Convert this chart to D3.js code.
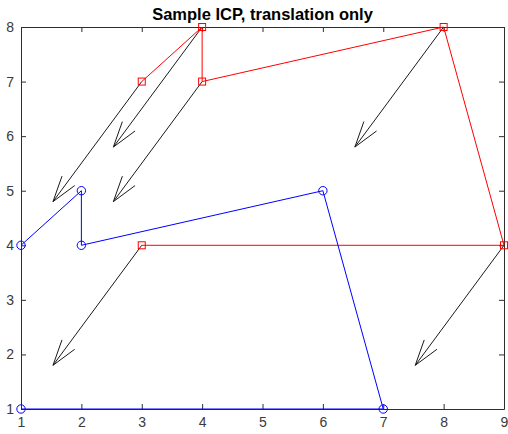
<!DOCTYPE html>
<html>
<head>
<meta charset="utf-8">
<script src="https://cdn.jsdelivr.net/npm/d3@7"></script>
<style>
  html, body { margin: 0; padding: 0; background: #fff; }
  svg { display: block; }
</style>
</head>
<body>
<svg id="chart" width="508" height="434"></svg>
<script>
// Model point set (red, squares)
const modelX = [3, 4, 4, 8, 9, 3];
const modelY = [7, 8, 7, 8, 4, 4];
// Data point set (blue, circles)
const dataX = [1, 2, 2, 6, 7, 1];
const dataY = [4, 5, 4, 5, 1, 1];
// Quiver arrows drawn from each model point (translation estimate)
const arrowU = [-1.47, -1.47, -1.47, -1.47, -1.47, -1.47];
const arrowV = [-2.2, -2.2, -2.2, -2.2, -2.2, -2.2];
// Axis ticks
const xTicks = [1, 2, 3, 4, 5, 6, 7, 8, 9];
const yTicks = [1, 2, 3, 4, 5, 6, 7, 8];
const titleText = "Sample ICP, translation only";

(function () {
const svg = d3.select("#chart");
const plotLeft = 21, plotRight = 504, plotTop = 27, plotBottom = 409;

const x = d3.scaleLinear().domain([1, 9]).range([plotLeft, plotRight]);
const y = d3.scaleLinear().domain([1, 8]).range([plotBottom, plotTop]);

const axisColor = "#2e2e2e";
const font = "'Liberation Sans', Arial, Helvetica, sans-serif";

// Axes (ticks pointing inward, box on)
const tickLen = 5;
const gx = svg.append("g").attr("transform", `translate(0,${plotBottom})`)
  .call(d3.axisBottom(x).tickValues(xTicks).tickSizeInner(-tickLen).tickSizeOuter(0).tickPadding(8).tickFormat(d3.format("d")));
const gxTop = svg.append("g").attr("transform", `translate(0,${plotTop})`)
  .call(d3.axisTop(x).tickValues(xTicks).tickSizeInner(-tickLen).tickSizeOuter(0).tickFormat(""));
const gy = svg.append("g").attr("transform", `translate(${plotLeft},0)`)
  .call(d3.axisLeft(y).tickValues(yTicks).tickSizeInner(-tickLen).tickSizeOuter(0).tickPadding(7).tickFormat(d3.format("d")));
const gyRight = svg.append("g").attr("transform", `translate(${plotRight},0)`)
  .call(d3.axisRight(y).tickValues(yTicks).tickSizeInner(-tickLen).tickSizeOuter(0).tickFormat(""));

[gx, gxTop, gy, gyRight].forEach(g => {
  g.select(".domain").attr("stroke", axisColor).attr("stroke-width", 1);
  g.selectAll(".tick line").attr("stroke", axisColor).attr("stroke-width", 1);
  g.selectAll(".tick text").attr("fill", "#3a3a3a").style("font-family", font).style("font-size", "14px");
});

// Title
svg.append("text")
  .attr("x", (plotLeft + plotRight) / 2)
  .attr("y", 19.5)
  .attr("text-anchor", "middle")
  .style("font-family", font)
  .style("font-size", "16.5px")
  .style("font-weight", "bold")
  .attr("fill", "#000")
  .text(titleText);

const line = d3.line().x(d => x(d[0])).y(d => y(d[1]));

// Quiver arrows (black)
const arrows = modelX.map((mx, i) => ({ x0: mx, y0: modelY[i], u: arrowU[i], v: arrowV[i] }));
const headLen = 27, headAngle = 17 * Math.PI / 180;
const ga = svg.append("g").attr("stroke", "#1a1a1a").attr("stroke-width", 1).attr("fill", "none");
arrows.forEach(a => {
  const px0 = x(a.x0), py0 = y(a.y0);
  const px1 = x(a.x0 + a.u), py1 = y(a.y0 + a.v);
  ga.append("line").attr("x1", px0).attr("y1", py0).attr("x2", px1).attr("y2", py1);
  const back = Math.atan2(py0 - py1, px0 - px1);
  const barbs = [back - headAngle, back + headAngle].map(t => [px1 + headLen * Math.cos(t), py1 + headLen * Math.sin(t)]);
  ga.append("path").attr("d", `M${barbs[0][0]},${barbs[0][1]}L${px1},${py1}L${barbs[1][0]},${barbs[1][1]}`);
});

// Model polyline with square markers
const modelPts = modelX.map((v, i) => [v, modelY[i]]);
svg.append("path").datum(modelPts).attr("d", line)
  .attr("fill", "none").attr("stroke", "#ff0000").attr("stroke-width", 1);
const sq = 7;
svg.append("g").selectAll("rect").data(modelPts).join("rect")
  .attr("x", d => x(d[0]) - sq / 2).attr("y", d => y(d[1]) - sq / 2)
  .attr("width", sq).attr("height", sq)
  .attr("fill", "none").attr("stroke", "#ff0000").attr("stroke-width", 1);

// Data polyline with circle markers
const dataPts = dataX.map((v, i) => [v, dataY[i]]);
svg.append("path").datum(dataPts).attr("d", line)
  .attr("fill", "none").attr("stroke", "#0000ff").attr("stroke-width", 1);
svg.append("g").selectAll("circle").data(dataPts).join("circle")
  .attr("cx", d => x(d[0])).attr("cy", d => y(d[1])).attr("r", 4.2)
  .attr("fill", "none").attr("stroke", "#0000ff").attr("stroke-width", 1);
})();
</script>
</body>
</html>
